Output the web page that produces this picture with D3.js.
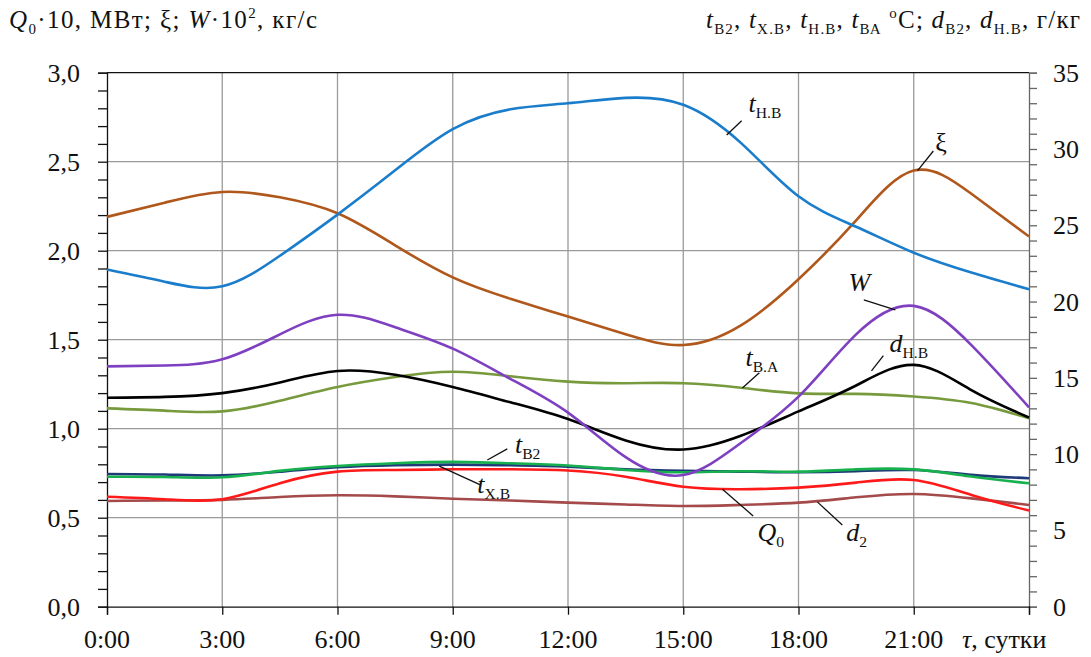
<!DOCTYPE html>
<html>
<head>
<meta charset="utf-8">
<script src="https://cdn.jsdelivr.net/npm/d3@7/dist/d3.min.js"></script>
<style>
	body { margin: 0; background: #fff; }
	svg { display: block; }
</style>
</head>
<body>
<svg id="chart" width="1091" height="657"></svg>
<script>
// Hours of the day (x)
var hours = [0, 1.5, 3, 4.5, 6, 7.5, 9, 10.5, 12, 13.5, 15, 16.5, 18, 19.5, 21, 22.5, 24];
var hourTicks = [0, 3, 6, 9, 12, 15, 18, 21];
var hourLabels = ['0:00', '3:00', '6:00', '9:00', '12:00', '15:00', '18:00', '21:00'];

// Left axis series: Q0*10, xi, W*10^2
var q0 = [0.618, 0.604, 0.604, 0.694, 0.759, 0.768, 0.772, 0.772, 0.765, 0.73, 0.674, 0.66, 0.669, 0.697, 0.712, 0.628, 0.54];
var xi = [2.19, 2.27, 2.33, 2.30, 2.21, 2.03, 1.85, 1.73, 1.63, 1.53, 1.47, 1.58, 1.84, 2.17, 2.45, 2.32, 2.08];
var w = [1.35, 1.355, 1.39, 1.53, 1.64, 1.57, 1.45, 1.28, 1.09, 0.84, 0.74, 0.92, 1.18, 1.53, 1.69, 1.47, 1.12];

// Right axis series: temperatures (C) and moisture (g/kg)
var tNV = [22.1, 21.3, 21.0, 23.0, 25.7, 28.6, 31.3, 32.6, 33.0, 33.35, 32.9, 30.4, 26.9, 24.9, 23.2, 21.9, 20.8];
var tVA = [13.0, 12.85, 12.8, 13.5, 14.4, 15.05, 15.4, 15.1, 14.75, 14.65, 14.65, 14.35, 13.98, 13.95, 13.78, 13.35, 12.35];
var dNV = [13.7, 13.75, 14.0, 14.7, 15.45, 15.2, 14.4, 13.4, 12.3, 10.9, 10.3, 11.2, 12.8, 14.5, 15.85, 14.2, 12.4];
var tXV = [8.7, 8.66, 8.61, 8.85, 9.14, 9.27, 9.31, 9.27, 9.18, 9.0, 8.9, 8.85, 8.81, 8.88, 8.96, 8.64, 8.42];
var tV2 = [8.52, 8.5, 8.48, 8.9, 9.22, 9.4, 9.49, 9.4, 9.25, 8.96, 8.81, 8.88, 8.85, 9.0, 9.0, 8.53, 8.09];
var d2 = [6.93, 6.96, 7.0, 7.19, 7.3, 7.23, 7.08, 6.96, 6.82, 6.7, 6.6, 6.67, 6.82, 7.17, 7.39, 7.1, 6.67];

var leftTicks = [0, 0.5, 1, 1.5, 2, 2.5, 3];
var rightTicks = [0, 5, 10, 15, 20, 25, 30, 35];

var svg = d3.select('#chart');
var x = d3.scaleLinear().domain([0, 24]).range([107, 1029]);
var yL = d3.scaleLinear().domain([0, 3]).range([606.7, 72.7]);
var yR = d3.scaleLinear().domain([0, 35]).range([606.7, 72.7]);
var FONT = '"Liberation Serif", "Times New Roman", serif';

// series list: values, axis, colour
var series = [
	{ v: d2, y: yR, c: '#a44a4a' },
	{ v: q0, y: yL, c: '#ff1a1a' },
	{ v: tXV, y: yR, c: '#1f3a78' },
	{ v: tV2, y: yR, c: '#17b04e' },
	{ v: tVA, y: yR, c: '#779a3d' },
	{ v: dNV, y: yR, c: '#000000' },
	{ v: w, y: yL, c: '#7e40c0' },
	{ v: xi, y: yL, c: '#b0581b' },
	{ v: tNV, y: yR, c: '#1a7dcb' }
];

// labels: text parts, anchor in (hour, left-axis value), leader from/to in same units
var labels = [
	{ p: [['t', 'i'], ['н.в', 's']], at: [16.7, 2.78], l: [[16.52, 2.73], [16.13, 2.65]] },
	{ p: [['ξ', '']], at: [21.56, 2.56], l: [[21.51, 2.56], [21.1, 2.45]] },
	{ p: [['W', 'i']], at: [19.3, 1.775], l: [[19.7, 1.724], [20.52, 1.668]] },
	{ p: [['d', 'i'], ['н.в', 's']], at: [20.37, 1.43], l: [[20.21, 1.41], [19.9, 1.325]] },
	{ p: [['t', 'i'], ['в.А', 's']], at: [16.62, 1.353], l: [[16.98, 1.314], [16.54, 1.229]] },
	{ p: [['t', 'i'], ['в2', 's']], at: [10.62, 0.864], l: [[10.42, 0.887], [9.9, 0.824]] },
	{ p: [['t', 'i'], ['х.в', 's']], at: [9.64, 0.639], l: [[9.72, 0.684], [8.65, 0.79]] },
	{ p: [['Q', 'i'], ['0', 's']], at: [16.93, 0.369], l: [[16.82, 0.510], [16.02, 0.660]] },
	{ p: [['d', 'i'], ['2', 's']], at: [19.24, 0.369], l: [[19.14, 0.459], [18.49, 0.589]] }
];

// write text made of parts: i = italic, s = subscript (small caps look), u = superscript
var richText = (sel, parts, size) => {
	var shift = 0;
	sel.style('font-family', FONT).style('font-size', size + 'px');
	parts.forEach((part) => {
		var small = part[1] === 's' || part[1] === 'u';
		var target = part[1] === 's' ? 6 : part[1] === 'u' ? -10 : 0;
		sel.append('tspan')
			.text(part[0])
			.attr('dy', target - shift)
			.style('font-family', FONT)
			.style('font-size', (small ? size * 0.6 : size) + 'px')
			.style('text-transform', part[1] === 's' ? 'uppercase' : 'none')
			.style('font-style', part[1] === 'i' ? 'italic' : 'normal');
		shift = target;
	});
	return sel;
};

//////////
// grid
//////////
var grid = svg.append('g').attr('stroke', '#9a9a9a').attr('stroke-width', 1.3);
grid.selectAll('line.h').data(leftTicks.filter((d) => d > 0 && d < 3)).enter().append('line')
	.attr('x1', x(0)).attr('x2', x(24))
	.attr('y1', (d) => yL(d)).attr('y2', (d) => yL(d));
grid.selectAll('line.v').data(hourTicks.filter((d) => d > 0)).enter().append('line')
	.attr('y1', yL(0)).attr('y2', yL(3))
	.attr('x1', (d) => x(d)).attr('x2', (d) => x(d));

//////////
// axes
//////////
var axL = svg.append('g').attr('transform', 'translate(' + x(0) + ',0)');
axL.call(d3.axisLeft(yL).tickValues(d3.range(0, 3.01, 0.1)).tickSize(9).tickFormat(''));
axL.selectAll('path, line').attr('stroke', '#111').attr('stroke-width', 1.3);

var axR = svg.append('g').attr('transform', 'translate(' + x(24) + ',0)');
axR.call(d3.axisRight(yR).tickValues(d3.range(0, 36, 1)).tickSize(8).tickFormat(''));
axR.selectAll('path, line').attr('stroke', '#666').attr('stroke-width', 1.3);

var axB = svg.append('g').attr('transform', 'translate(0,' + yL(0) + ')');
axB.call(d3.axisBottom(x).tickValues(hourTicks.concat([24])).tickSize(8).tickFormat(''));
axB.selectAll('path, line').attr('stroke', '#111').attr('stroke-width', 1.3);

svg.append('line')
	.attr('x1', x(0)).attr('x2', x(24)).attr('y1', yL(3)).attr('y2', yL(3))
	.attr('stroke', '#111').attr('stroke-width', 1.3);

// tick labels
var fmt = (d) => d.toFixed(1).replace('.', ',');
var tickText = (sel) => sel.style('font-family', FONT).style('font-size', '26px').attr('fill', '#111');
svg.append('g').selectAll('text').data(leftTicks).enter().append('text')
	.call(tickText)
	.attr('x', 80).attr('y', (d) => yL(d) + 9)
	.attr('text-anchor', 'end')
	.text(fmt);
svg.append('g').selectAll('text').data(rightTicks).enter().append('text')
	.call(tickText)
	.attr('x', 1053).attr('y', (d) => yR(d) + 9)
	.attr('text-anchor', 'start')
	.text((d) => d);
svg.append('g').selectAll('text').data(hourTicks).enter().append('text')
	.call(tickText)
	.attr('x', (d) => x(d)).attr('y', 648)
	.attr('text-anchor', 'middle')
	.text((d, i) => hourLabels[i]);

richText(svg.append('text').attr('x', 962).attr('y', 648).attr('fill', '#111'),
	[['τ', 'i'], [', сутки', '']], 26);

// axis titles
richText(svg.append('text').attr('x', 9).attr('y', 28).attr('fill', '#111')
		.attr('textLength', 308).attr('lengthAdjust', 'spacing'),
	[['Q', 'i'], ['0', 's'], ['·10, МВт; ξ; ', ''], ['W', 'i'], ['·10', ''], ['2', 'u'], [', кг/с', '']], 25);
richText(svg.append('text').attr('x', 706).attr('y', 28).attr('fill', '#111')
		.attr('textLength', 374).attr('lengthAdjust', 'spacing'),
	[['t', 'i'], ['в2', 's'], [', ', ''], ['t', 'i'], ['х.в', 's'], [', ', ''], ['t', 'i'], ['н.в', 's'],
	 [', ', ''], ['t', 'i'], ['вА', 's'], [' ', ''], ['o', 'u'], ['C; ', ''], ['d', 'i'], ['в2', 's'],
	 [', ', ''], ['d', 'i'], ['н.в', 's'], [', г/кг', '']], 25);

//////////
// curves
//////////
var lines = svg.append('g').attr('fill', 'none').attr('stroke-width', 2.6);
series.forEach((s) => {
	var line = d3.line()
		.x((d, i) => x(hours[i]))
		.y((d) => s.y(d))
		.curve(d3.curveNatural);
	lines.append('path').attr('d', line(s.v)).attr('stroke', s.c);
});

// curve labels and leaders
var ann = svg.append('g');
labels.forEach((lb) => {
	ann.append('line')
		.attr('x1', x(lb.l[0][0])).attr('y1', yL(lb.l[0][1]))
		.attr('x2', x(lb.l[1][0])).attr('y2', yL(lb.l[1][1]))
		.attr('stroke', '#111').attr('stroke-width', 1.3);
	richText(ann.append('text').attr('x', x(lb.at[0])).attr('y', yL(lb.at[1])).attr('fill', '#111'),
		lb.p, 26);
});
</script>
</body>
</html>
